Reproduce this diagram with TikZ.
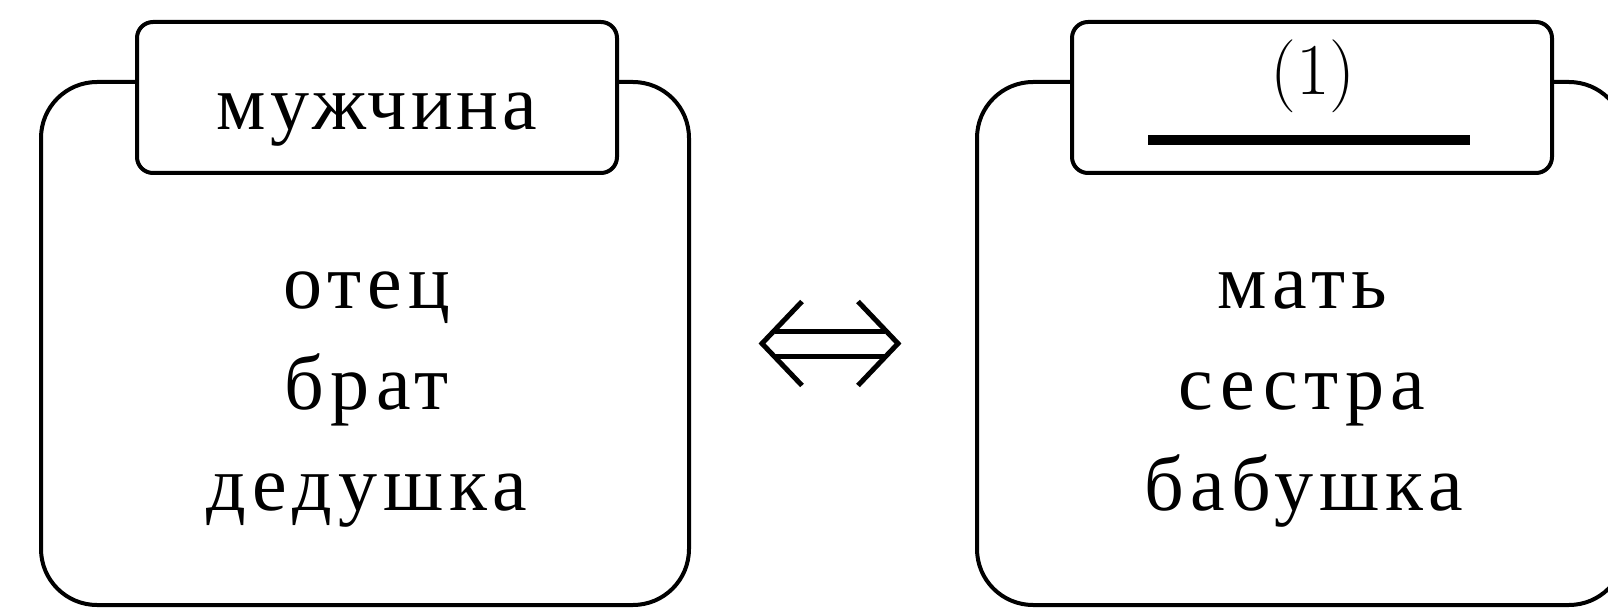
\documentclass[tikz,border=0pt]{standalone}
\usepackage{fontspec}
\setmainfont{Liberation Serif}[LetterSpace=5]
\newfontfamily\listfont{Liberation Serif}[LetterSpace=8]
\newfontfamily\lmfont{Latin Modern Roman}

\begin{document}
\begin{tikzpicture}[x=0.5pt, y=-0.5pt,
      bigbox/.style={
        draw,
        line width=2pt,
        rounded corners=28pt,
        minimum width=324pt,
        minimum height=261.5pt
      },
      tabbox/.style={
        draw,
        fill=white,
        line width=2pt,
        rounded corners=8pt,
        minimum width=240pt,
        minimum height=75.5pt
      },
      title/.style={
        anchor=base,
        inner sep=0pt,
        font=\fontsize{39}{44}\selectfont
      },
      word/.style={
        anchor=base,
        inner sep=0pt,
        font=\listfont\fontsize{39}{44}\selectfont
      },
      equivalence/.style={
        double,
        line width=2.5pt,
        double distance=10pt,
        shorten <=42pt,
        shorten >=45pt
      },
      chevron/.style={
        line width=2.5pt,
        line join=miter
      },
    ]
    \useasboundingbox (0, 0) rectangle (1608, 610);

    \node [bigbox] (man) at (365, 343.5) {};
    \node [tabbox] (manTab) at (377, 97.5) {};
    \node [title] (manTitle) at (377, 130) {мужчина};
    \node [word] (father) at (367, 308) {отец};
    \node [word] (brother) at (367, 409) {брат};
    \node [word] (grandpa) at (367, 510) {дедушка};

    \node [bigbox] (woman) at (1301, 343.5) {};
    \node [tabbox] (womanTab) at (1312, 97.5) {};
    \node [anchor=base, inner sep=0pt, font=\lmfont\fontsize{36.5}{40}\selectfont]
          (gap) at (1313, 95) {(1)};
    \node [inner sep=0pt] (blankLine) at (1309, 140) {\rule{161pt}{5pt}};
    \node [word] (mother) at (1302, 308) {мать};
    \node [word] (sister) at (1302, 409) {сестра};
    \node [word] (grandma) at (1304, 510) {бабушка};

    % the equivalence sign between the two boxes
    \draw [equivalence] (man.east) -- (woman.west);
    \draw [chevron] (man.east) ++(111, -42) -- ++(-40, 42) -- ++(40, 42);
    \draw [chevron] (woman.west) ++(-117, -42) -- ++(40, 42) -- ++(-40, 42);
\end{tikzpicture}
\end{document}
